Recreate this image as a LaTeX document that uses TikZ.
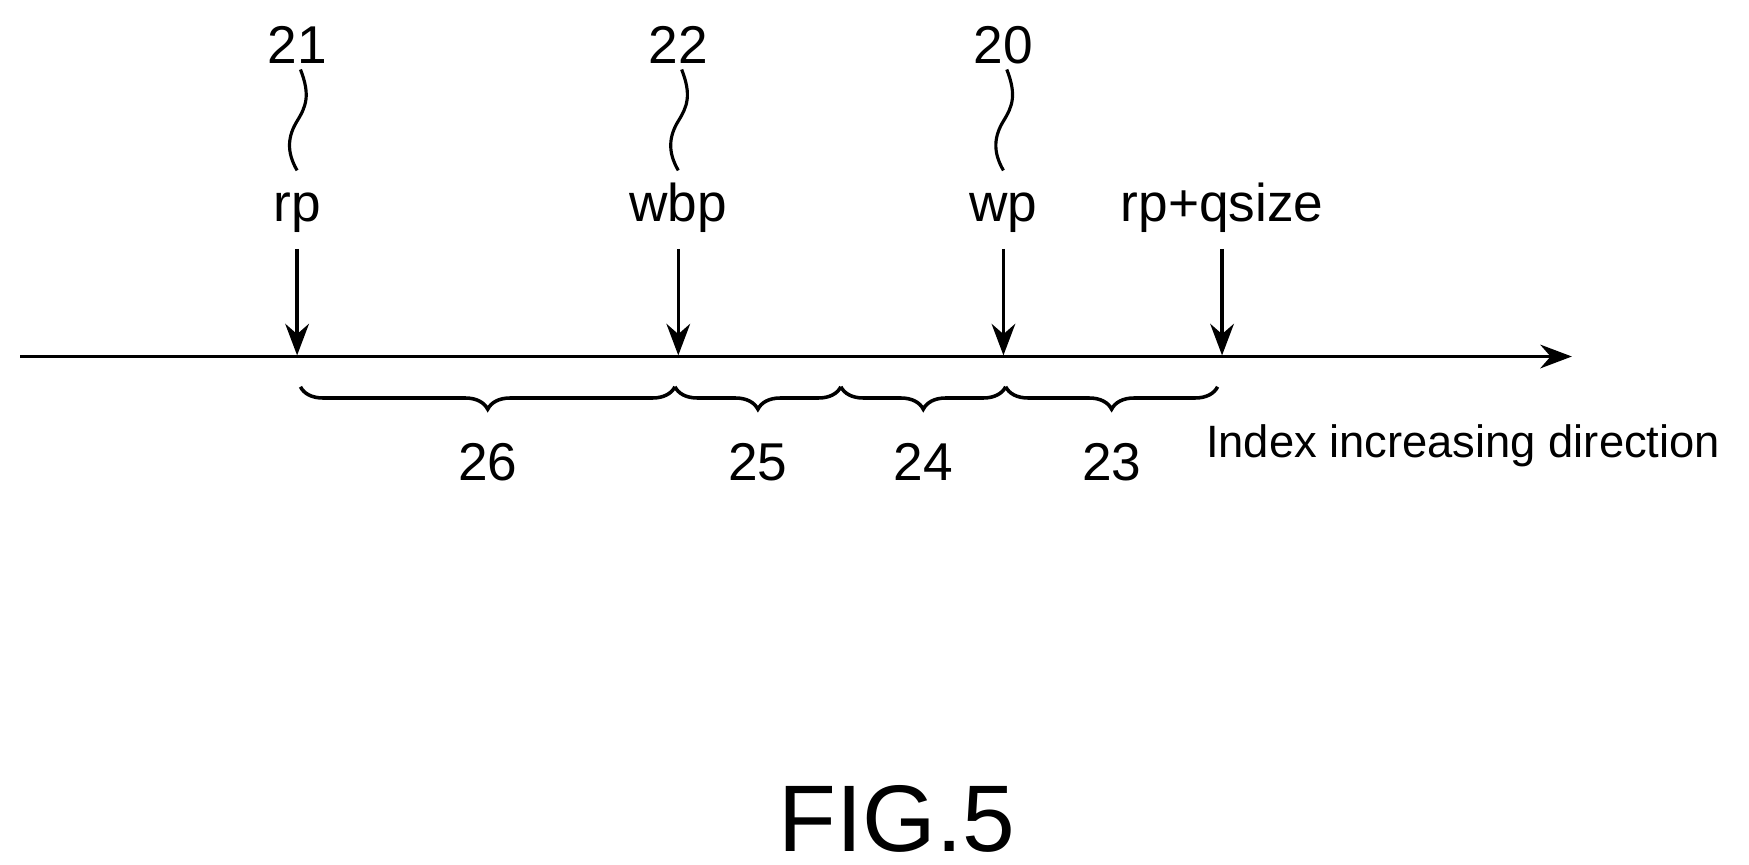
\documentclass[tikz,border=0pt]{standalone}
\usepackage{fontspec}
\setmainfont{Liberation Sans}
\usetikzlibrary{decorations.pathreplacing,arrows.meta}
\begin{document}
\begin{tikzpicture}[x=0.01cm,y=-0.01cm,
  lbl/.style={font=\fontsize{13.5}{16}\selectfont,inner sep=0},
  ptr/.style={-{Stealth[length=8pt,width=6pt]},line width=0.9pt},
  br/.style={decorate,decoration={brace,mirror,amplitude=0.2cm},line width=0.9pt},
  sq/.style={line width=0.8pt}]
\useasboundingbox (0,0) rectangle (1560,771);
\coordinate (a0) at (18,318);
\coordinate (a1) at (1402,318);
\draw[ptr] (a0) -- (a1);
\foreach \n/\x/\t/\num in {r/265/rp/21, w/605/wbp/22, p/895/wp/20}{
  \node[lbl] (n\n) at (\x,40) {\num};
  \node[lbl,anchor=base] (t\n) at (\x,198) {\t};
  \coordinate (s\n) at (\x,222);
  \coordinate (e\n) at (\x,317);
  \draw[ptr] (s\n) -- (e\n);
  \draw[sq] (\x+3,62) .. controls (\x+12,85) and (\x+8,95) .. (\x,108) .. controls (\x-8,121) and (\x-10,135) .. (\x,152);
}
\node[lbl,anchor=base] (tq) at (1090,198) {rp+qsize};
\coordinate (sq1) at (1090,222); \coordinate (eq1) at (1090,317);
\draw[ptr] (sq1) -- (eq1);
\foreach \a/\b/\n in {268/602/26, 602/750/25, 750/897/24, 897/1086/23}{
  \draw[br] (\a,345) -- (\b,345);
  \node[lbl] (b\n) at ({(\a+\b)/2},412) {\n};
}
\node[inner sep=0,anchor=west,font=\fontsize{11.5}{14}\selectfont] (idx) at (1075,398) {Index increasing direction};
\node[inner sep=0,font=\fontsize{24}{28}\selectfont] (fig) at (800,730) {FIG.5};
\end{tikzpicture}
\end{document}
